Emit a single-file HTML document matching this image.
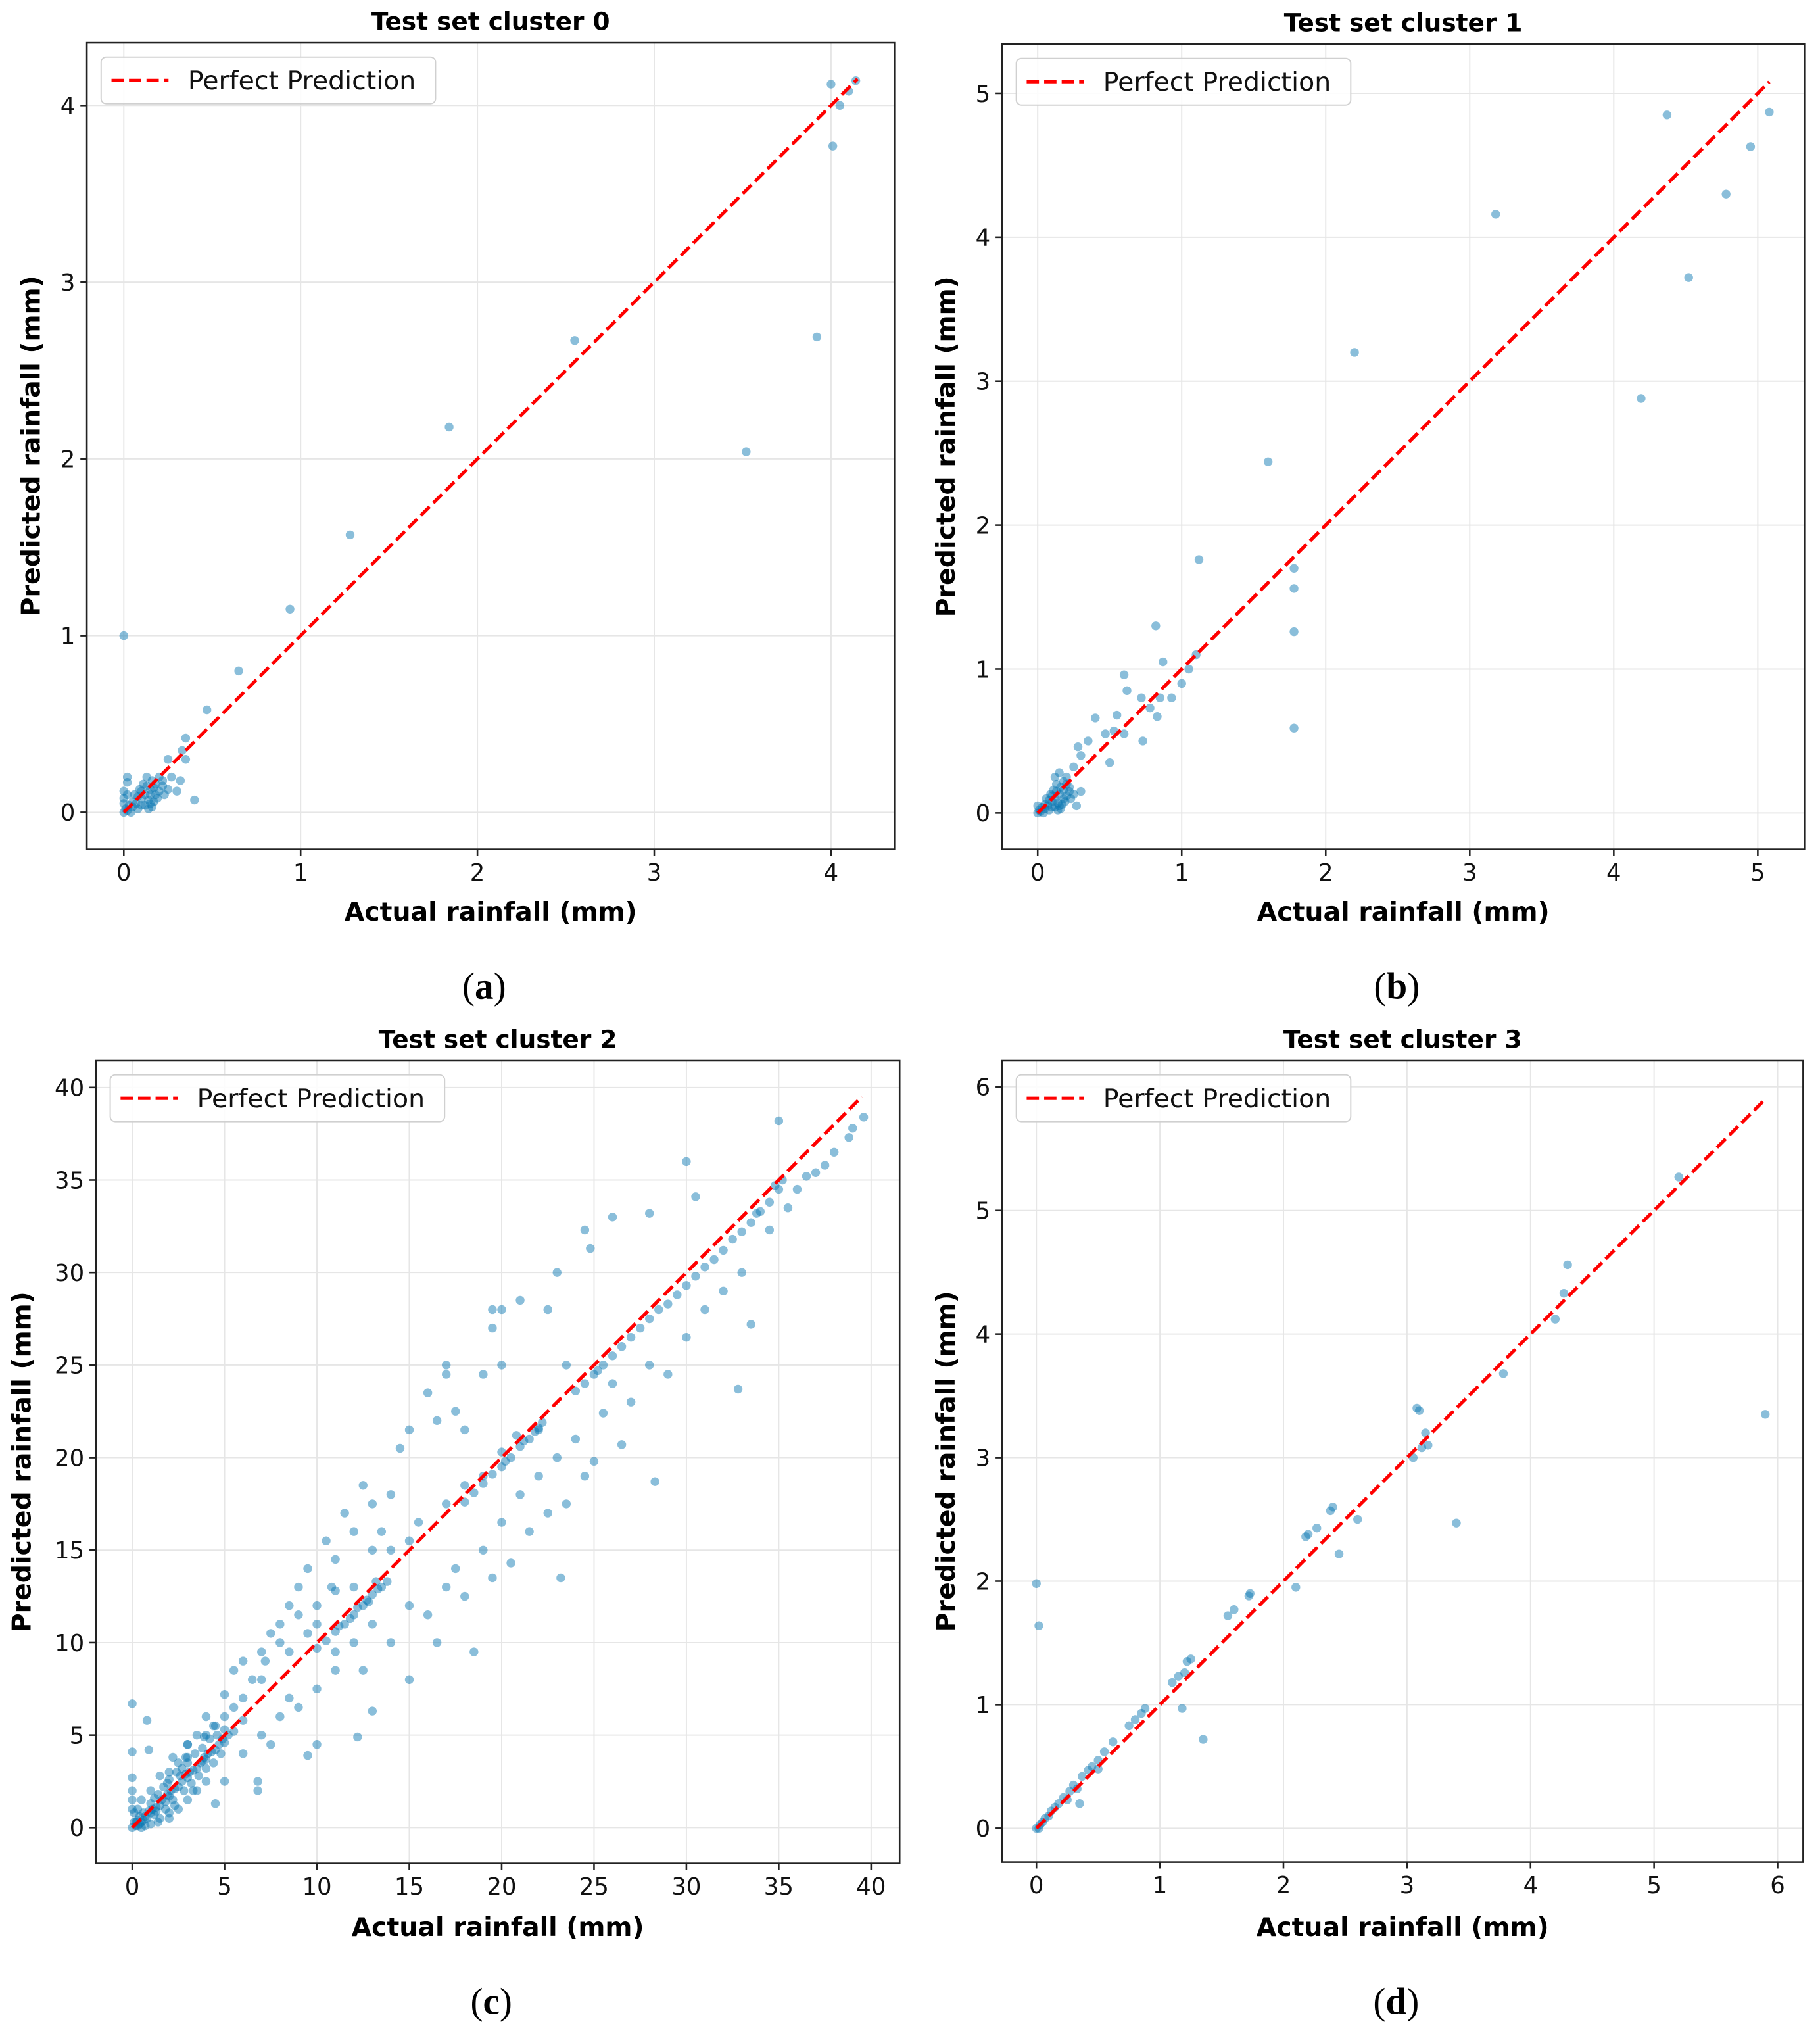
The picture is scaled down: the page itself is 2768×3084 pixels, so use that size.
<!DOCTYPE html>
<html><head><meta charset="utf-8">
<style>
html,body{margin:0;padding:0;background:#fff;}
svg{display:block;}
text{font-family:"DejaVu Sans","Liberation Sans",sans-serif;}
</style></head>
<body>
<svg id="fig" xmlns="http://www.w3.org/2000/svg" width="2768" height="3084" viewBox="0 0 1404 1564" preserveAspectRatio="none">
<rect width="1404" height="1564" fill="#fff"/>
</svg>
<script>
// ---- data ----
const titles = ["Test set cluster 0","Test set cluster 1","Test set cluster 2","Test set cluster 3"];
const panelLetters = ["(a)","(b)","(c)","(d)"];
const ticksA = [0,1,2,3,4];
const ticksB = [0,1,2,3,4,5];
const ticksC = [0,5,10,15,20,25,30,35,40];
const ticksD = [0,1,2,3,4,5,6];
const lineMaxA = 4.15, lineMaxB = 5.08, lineMaxC = 39.5, lineMaxD = 5.9;
const pointsA = [[0,1.0],[0.02,0.2],[0.02,0.17],[0,0.12],[0.4,0.07],[0.35,0.3],[0.35,0.42],[0.32,0.18],[0.25,0.3],[0.47,0.58],[0.65,0.8],[0.94,1.15],[1.28,1.57],[1.84,2.18],[2.55,2.67],[3.52,2.04],[3.92,2.69],[4.01,3.77],[4.0,4.12],[4.05,4.0],[4.1,4.08],[4.14,4.14],
[0,0],[0.01,0.02],[0.02,0.01],[0.03,0.04],[0.05,0.03],[0.05,0.06],[0.07,0.05],[0.08,0.09],[0.1,0.08],[0.1,0.12],[0.12,0.1],[0.13,0.15],[0.15,0.13],[0.16,0.18],[0.18,0.16],[0.2,0.2],[0.22,0.18],[0.15,0.05],[0.16,0.03],[0.17,0.06],[0.12,0.04],[0.14,0.07],[0.2,0.12],[0.22,0.15],[0.25,0.13],[0.27,0.2],[0.18,0.1],[0.08,0.02],[0.04,0.0],[0.0,0.05],[0.0,0.08],[0.02,0.1],[0.06,0.1],[0.09,0.13],[0.11,0.16],[0.13,0.2],[0.3,0.12],[0.1,0.04],[0.14,0.02],[0.19,0.08],[0.23,0.1],[0.33,0.35],[0.15,0.1],[0.17,0.14]];
const pointsB = [[1.6,2.44],[2.2,3.2],[3.18,4.16],[4.37,4.85],[4.19,2.88],[4.52,3.72],[4.78,4.3],[4.95,4.63],[5.08,4.87],[1.78,1.7],[1.78,1.56],[1.78,1.26],[1.78,0.59],[1.12,1.76],[0.82,1.3],[0.87,1.05],[1.1,1.1],[1.05,1.0],[1.0,0.9],[0.93,0.8],[0.85,0.8],[0.83,0.67],[0.78,0.73],[0.73,0.5],[0.72,0.8],[0.6,0.96],[0.62,0.85],[0.55,0.68],[0.53,0.57],[0.5,0.35],[0.6,0.55],[0.47,0.55],[0.4,0.66],[0.35,0.5],[0.3,0.4],[0.28,0.46],[0.25,0.32],[0.3,0.15],[0.27,0.05],[0.15,0.28],[0.12,0.25],
[0,0],[0.01,0.02],[0.02,0.01],[0.03,0.04],[0.05,0.03],[0.05,0.06],[0.07,0.05],[0.08,0.09],[0.1,0.08],[0.1,0.12],[0.12,0.1],[0.13,0.15],[0.15,0.13],[0.16,0.18],[0.18,0.16],[0.2,0.2],[0.22,0.18],[0.15,0.05],[0.16,0.03],[0.17,0.06],[0.12,0.04],[0.14,0.07],[0.2,0.12],[0.22,0.15],[0.25,0.13],[0.18,0.1],[0.08,0.02],[0.04,0.0],[0.0,0.05],[0.06,0.1],[0.09,0.13],[0.11,0.16],[0.13,0.2],[0.1,0.04],[0.14,0.02],[0.19,0.08],[0.23,0.1],[0.2,0.25],[0.18,0.22]];
const pointsC = [[0,6.7],[0,4.1],[0,2.7],[0,2],[0,1.5],[0,1],[0.8,5.8],[0.9,4.2],
[3,4.5],[4,6],[5,7.2],[5.5,8.5],[6,9],[6.5,8],[7,9.5],[7.5,10.5],[8,11],[8,10],[8.5,12],[9,13],[9,11.5],[9.5,14],[10,12],[10.5,15.5],[11,14.5],[11,12.8],[11.5,17],[12,16],[12.5,18.5],[13,17.5],[13.5,16],[14,18],[14.5,20.5],[15,21.5],[15.5,16.5],[16,23.5],[16.5,22],[17,25],[17,24.5],[17.5,22.5],[18,21.5],[19,24.5],[19.5,27],[19.5,28],[20,25],[20,28],[21,28.5],[22,21.5],[22.5,28],[23,30],[23.5,25],[24.5,32.3],[24.8,31.3],[26,33],[28,33.2],[30,36],[30.5,34.1],[35,38.2],[6,7],[7,8],[10,11],[12,13],[8.5,9.5],[9.5,10.5],[5,6],[4,5],[3.5,5],[2.5,3.5],[2,3],[3,3.8],[4.5,5.5],[5.5,6.5],[7.2,9],[10.8,13],[13,15],[14,15],[15,15.5],[17,17.5],[18,18.5],[19,19],[20,20.3],
[2,0.8],[3,1.5],[3.5,2],[4,2.5],[5,2.5],[4.5,1.3],[6,4],[6.8,2.5],[6.8,2],[7,5],[7.5,4.5],[8,6],[8.5,7],[9,6.5],[9.5,3.9],[10,7.5],[10,4.5],[11,8.5],[11,9.5],[12,10],[12.2,4.9],[12.5,8.5],[13,11],[13,6.3],[14,10],[15,8],[15,12],[16,11.5],[16.5,10],[17,13],[17.5,14],[18,12.5],[18.5,9.5],[19,15],[19.5,13.5],[20,16.5],[20.5,14.3],[21,18],[21.5,16],[22,19],[22.5,17],[23,20],[23.2,13.5],[23.5,17.5],[24,21],[24.5,19],[25,19.8],[25.5,22.4],[26,24],[26.5,20.7],[27,23],[28,25],[28.3,18.7],[29,24.5],[30,26.5],[31,28],[32,29],[32.8,23.7],[33,30],[33.5,27.2],[34.5,32.3],[35.5,33.5],[36,34.5],[37,35.4],[38,36.5],[38.8,37.3],[39.6,38.4],[39,37.8],[37.5,35.8],[36.5,35.2],
[0.5,0.3],[1,0.8],[1.5,1.2],[2,1.7],[2.5,2.2],[3,2.7],[3.5,3.2],[4,3.7],[4.5,4.2],[5,4.6],[11,10.6],[11.5,11],[12,11.5],[12.5,12],[13,12.6],[13.5,13],[18,17.6],[19,18.6],[20,19.5],[20.5,20],[21,20.6],[21.5,21],[22,21.6],[24,23.6],[24.5,24],[25,24.5],[25.5,25],[26,25.5],[26.5,26],[27,26.5],[27.5,27],[28,27.5],[28.5,28],[29,28.3],[29.5,28.8],[30,29.3],[30.5,29.8],[31,30.3],[31.5,30.7],[32,31.2],[32.5,31.8],[33,32.2],[33.5,32.7],[34,33.3],[34.5,33.8],[35,34.5],[35.2,35],[12.8,12.2],[13.2,13.3],[20.8,21.2],[25.2,24.7],[34.8,34.7],[33.8,33.2],
[0,0],[0.2,0.3],[0.4,0.2],[0.6,0.8],[0.8,0.5],[1,1.3],[1.2,0.7],[1.4,1.8],[1.5,0.5],[1.7,2.2],[1.8,1],[2,2.6],[2.2,1.5],[2.4,3],[2.5,1],[2.7,3.2],[2.8,2],[3,3.5],[3.2,2.4],[3.4,4],[3.6,2.8],[3.8,4.3],[4,3.2],[4.2,4.8],[4.4,3.5],[4.6,5],[4.8,4],[5,5.3],[0.3,1],[0.5,1.5],[0.1,0.8],[0.7,0.1],[1,0.2],[2,0.5],[1.5,2.8],[2.2,3.8],[3,4.5],[1.2,1.6],[2.6,2.8],[3.8,3.6],[0.4,0.6],[1.8,1.4],
[0.2,0.1],[0.3,0.4],[0.6,0.4],[0.9,0.9],[1.1,1.0],[1.3,1.1],[1.6,1.5],[1.9,1.8],[2.1,2.0],[2.3,2.1],[2.7,2.5],[2.9,2.9],[3.1,3.0],[3.3,3.1],[3.7,3.5],[3.9,3.8],[4.1,4.0],[4.3,4.1],[4.7,4.5],[4.9,4.8],[5.2,5.0],[5.5,5.2],[6,5.8],[0.1,0.3],[0.3,0.1],[0.7,0.6],[1.3,0.9],[2.3,1.2],[3.3,2.0],[1.0,2.0],[1.9,2.4],[2.9,3.8],[3.9,4.9],[4.4,5.5],[0.5,0.0],[1.4,0.3],
[10,9.7],[10.5,10.1],[11.2,10.9],[11.8,11.3],[12.2,11.9],[12.7,12.3],[13.3,12.9],[13.8,13.3],[18.5,18.1],[19.5,19.1],[20.2,19.8],[21.2,20.9],[21.8,21.4],[22.2,21.9]];
const pointsD = [[0,1.98],[0.02,1.64],[5.2,5.27],[5.9,3.35],[4.3,4.56],[4.27,4.33],[4.2,4.12],[3.78,3.68],[3.1,3.38],[3.08,3.4],[3.05,3.0],[3.4,2.47],[3.17,3.1],[3.15,3.2],[3.12,3.08],[2.6,2.5],[2.45,2.22],[2.38,2.57],[2.4,2.6],[2.27,2.43],[2.2,2.38],[2.18,2.36],[2.1,1.95],[1.73,1.9],[1.72,1.88],[1.6,1.77],[1.55,1.72],[1.25,1.37],[1.22,1.35],[1.2,1.26],[1.15,1.23],[1.1,1.18],[1.35,0.72],[1.18,0.97],[0.88,0.97],[0.85,0.93],[0.8,0.88],[0.75,0.83],[0.62,0.7],[0.55,0.62],[0.5,0.55],[0.45,0.5],[0.42,0.47],[0.37,0.42],[0.35,0.2],[0.3,0.35],[0.27,0.3],[0.22,0.25],[0.18,0.2],[0.15,0.17],[0.12,0.14],[0.1,0.1],[0.07,0.08],[0.05,0.05],[0.03,0.03],[0,0],[0.02,0.0],[0.5,0.48],[0.33,0.32],[0.25,0.23]];

const NS = "http://www.w3.org/2000/svg";
const svg = document.getElementById('fig');
function mk(tag, attrs, parent){ const e=document.createElementNS(NS,tag); for(const k in attrs) e.setAttribute(k,attrs[k]); (parent||svg).appendChild(e); return e; }

const panels = [
 {box:[67,33,690,655], x0:95.5, ux:136.4, y0:626.5, uy:136.3, ticks:ticksA, pts:pointsA, lm:lineMaxA, ylx:24, xly:710, lety:760},
 {box:[773,34,1392,655], x0:800.5, ux:111.1, y0:627, uy:111, ticks:ticksB, pts:pointsB, lm:lineMaxB, ylx:730, xly:710, lety:760},
 {box:[74,818,694,1437], x0:102, ux:14.25, y0:1409.5, uy:14.27, ticks:ticksC, pts:pointsC, lm:lineMaxC, ylx:17, xly:1493, lety:1543},
 {box:[773,818,1391,1436], x0:799.5, ux:95.3, y0:1410, uy:95.3, ticks:ticksD, pts:pointsD, lm:lineMaxD, ylx:730, xly:1493, lety:1543}
];

panels.forEach((p,i)=>{
  const [L,T,R,B] = p.box;
  const sx = v => p.x0 + v*p.ux;
  const sy = v => p.y0 - v*p.uy;
  const g = mk('g',{});
  
  
  p.ticks.forEach(t=>{
    const gx = mk('line',{x1:sx(t),x2:sx(t),y1:T,y2:B,stroke:'#e6e6e6','stroke-width':1},g);
    
    
    const y = sy(t);
    if (y>=T && y<=B){
      const gy = mk('line',{x1:L,x2:R,y1:y,y2:y,stroke:'#e6e6e6','stroke-width':1},g);
      
      
    }
  });
  p.pts.forEach(pt=>{
    const c = mk('circle',{cx:sx(pt[0]),cy:sy(pt[1]),r:3.4,fill:'#0a78b2','fill-opacity':0.48},g);
    
    
  });
  const ln = mk('line',{x1:sx(0),y1:sy(0),x2:sx(p.lm),y2:sy(p.lm),stroke:'#ff0000','stroke-width':2.6,'stroke-dasharray':'9.5,4'},g);
  
  
  const bx = mk('rect',{x:L,y:T,width:R-L,height:B-T,fill:'none',stroke:'#222','stroke-width':1.3},g);
  
  
  p.ticks.forEach(t=>{
    const x = sx(t);
    const tk = mk('line',{x1:x,x2:x,y1:B,y2:B+5,stroke:'#222','stroke-width':1.3},g);
    
    
    const tl = mk('text',{x:x,y:B+24,'text-anchor':'middle','font-size':18,fill:'#111'},g);
    tl.textContent = t;
    
    
    const y = sy(t);
    if (y>=T && y<=B){
      const ty = mk('line',{x1:L-5,x2:L,y1:y,y2:y,stroke:'#222','stroke-width':1.3},g);
      
      
      const yl = mk('text',{x:L-9,y:y+6.5,'text-anchor':'end','font-size':18,fill:'#111'},g);
      yl.textContent = t;
      
      
    }
  });
  const tt = mk('text',{x:(L+R)/2,y:T-10,'text-anchor':'middle','font-size':19,'font-weight':'bold',fill:'#000'},g);
  tt.textContent = titles[i];
  
  
  const xl = mk('text',{x:(L+R)/2,y:p.xly,'text-anchor':'middle','font-size':20,'font-weight':'bold',fill:'#000'},g);
  xl.textContent = 'Actual rainfall (mm)';
  
  
  const yc = (T+B)/2;
  const yl2 = mk('text',{x:p.ylx,y:yc,'text-anchor':'middle','font-size':20,'font-weight':'bold',fill:'#000',transform:`rotate(-90 ${p.ylx} ${yc})`,'dominant-baseline':'central'},g);
  yl2.textContent = 'Predicted rainfall (mm)';
  
  
  const lg = mk('g',{},g);
  
  
  mk('rect',{x:L+11,y:T+11,width:258,height:36,rx:4,fill:'#fff','fill-opacity':0.85,stroke:'#d0d0d0','stroke-width':1},lg);
  mk('line',{x1:L+19,x2:L+63,y1:T+29,y2:T+29,stroke:'#ff0000','stroke-width':2.6,'stroke-dasharray':'9.5,4'},lg);
  const lt = mk('text',{x:L+78,y:T+36,'font-size':20,fill:'#111'},lg);
  lt.textContent = 'Perfect Prediction';
  
  
  const pl = mk('text',{x:(L+R)/2 - 5,y:p.lety+10,'text-anchor':'middle','font-size':29,fill:'#000'},g);
  pl.setAttribute('style','font-family:"Liberation Serif",serif');
  pl.innerHTML = '(<tspan font-weight="bold">'+panelLetters[i].slice(1,2)+'</tspan>)';
  
  
});
</script>
</body></html>
